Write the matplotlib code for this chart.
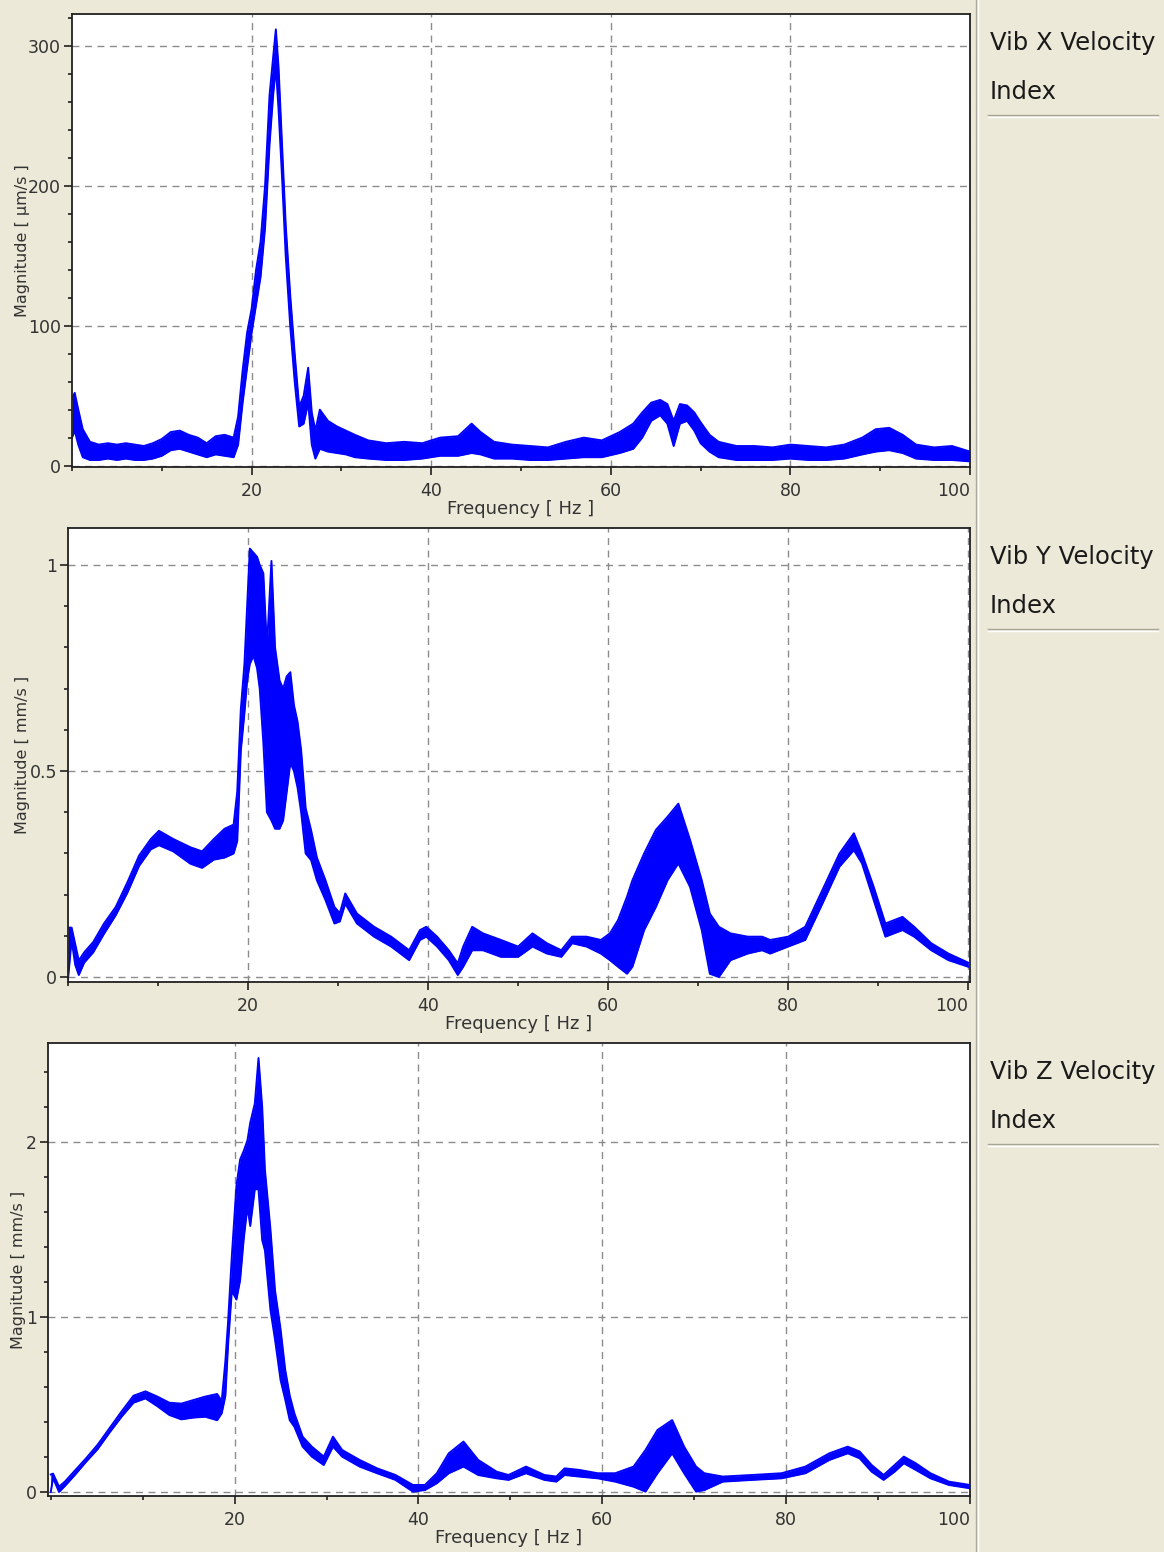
"""
Vibration velocity spectra, X / Y / Z channels.
Envelope values (low / high edge of the noisy trace) read off the screenshot.
"""

import matplotlib
matplotlib.use("Agg")
import matplotlib.pyplot as plt
from matplotlib.lines import Line2D
from matplotlib.ticker import MultipleLocator

BG = "#ECE9D8"
TRACE = "#0000FF"
TEXT = "#333333"

# --- Vib X (um/s) ---
freq_x = [0, 0.3, 0.7, 1.2, 2, 3, 4, 5, 6, 7, 8, 9, 10, 11, 12, 13, 14, 15, 16, 17,
          18, 18.5, 19, 19.5, 20, 20.5, 21, 21.5, 22, 22.4, 22.7, 23, 23.4, 23.8,
          24.3, 24.8, 25.3, 25.8, 26.3, 26.7, 27.1, 27.6, 28.5, 29.5, 30.5, 31.5,
          33, 35, 37, 39, 41, 43, 44.5, 45.5, 47, 49, 51, 53, 55, 57, 59, 61, 62.5,
          63.5, 64.5, 65.5, 66.3, 67, 67.7, 68.5, 69.3, 70, 71, 72, 74, 76, 78, 80,
          82, 84, 86, 88, 89.5, 91, 92.5, 94, 96, 98, 100]
low_x = [20, 25, 15, 6, 4, 4, 5, 4, 5, 4, 4, 5, 7, 11, 12, 10, 8, 6, 8, 7,
         6, 15, 45, 70, 95, 115, 135, 170, 230, 265, 285, 255, 205, 150,
         100, 60, 28, 30, 45, 15, 5, 12, 10, 9, 8, 6,
         5, 4, 4, 5, 7, 7, 9, 8, 5, 5, 4, 4, 5, 6, 6, 9, 12,
         20, 32, 36, 30, 14, 30, 32, 25, 16, 10, 6, 4, 4, 4, 5,
         4, 4, 5, 8, 10, 11, 9, 5, 4, 4, 3]
high_x = [48, 52, 40, 26, 17, 15, 16, 15, 16, 15, 14, 16, 19, 24, 25, 22, 20, 16, 21, 22,
          20, 35, 68, 95, 112, 140, 160, 200, 265, 292, 312, 285, 228, 172,
          122, 80, 42, 50, 70, 38, 25, 40, 32, 28, 25, 22,
          18, 16, 17, 16, 20, 21, 30, 24, 17, 15, 14, 13, 17, 20, 18, 24, 30,
          38, 45, 47, 44, 32, 44, 43, 38, 31, 22, 17, 14, 14, 13, 15,
          14, 13, 15, 20, 26, 27, 22, 15, 13, 14, 10]

# --- Vib Y (mm/s) ---
freq_y = [0, 0.4, 0.8, 1.2, 1.8, 2.8, 4, 5.3, 6.6, 7.9, 9.2, 10.1, 11.7, 13.6, 14.9,
          16.2, 17.4, 18.4, 18.8, 19.2, 19.6, 19.9, 20.2, 20.6, 21.0, 21.3, 21.7,
          22.1, 22.6, 23.0, 23.5, 23.9, 24.3, 24.7, 25.1, 25.5, 25.9, 26.4, 27.0,
          27.65, 28.6, 29.6, 30.2, 30.8, 32.1, 34, 35.9, 37.9, 39.1, 39.8, 41,
          42.3, 43.3, 43.9, 44.9, 46.1, 48.1, 50, 51.6, 53.2, 54.8, 56, 57.6, 59.2,
          60.2, 61.1, 62.1, 62.7, 64, 65.3, 66.6, 67.8, 69.1, 70.4, 71.3, 72.3,
          73.6, 75.5, 77.1, 78, 80, 81.9, 83.8, 85.7, 87.3, 88.2, 89.5, 90.8, 92.7,
          94, 95.9, 97.8, 100]
low_y = [-0.005, 0.09, 0.03, 0.005, 0.035, 0.06, 0.105, 0.15, 0.205, 0.27, 0.31, 0.32,
         0.305, 0.275, 0.265, 0.285, 0.29, 0.30, 0.33, 0.55, 0.64, 0.72, 0.76, 0.78,
         0.75, 0.70, 0.57, 0.40, 0.38, 0.36, 0.36, 0.38, 0.45, 0.52, 0.50, 0.46, 0.40,
         0.30, 0.284, 0.235, 0.187, 0.13, 0.135, 0.178, 0.13, 0.098, 0.074, 0.041,
         0.09, 0.098, 0.074, 0.041, 0.005, 0.025, 0.065, 0.065, 0.049, 0.049, 0.074,
         0.057, 0.049, 0.082, 0.074, 0.057, 0.041, 0.025, 0.008, 0.025, 0.114, 0.17,
         0.235, 0.276, 0.219, 0.114, 0.008, 0.0, 0.041, 0.057, 0.065, 0.057, 0.074,
         0.09, 0.178, 0.268, 0.308, 0.276, 0.187, 0.098, 0.114, 0.098, 0.065, 0.041,
         0.025]
high_y = [0.12, 0.12, 0.08, 0.04, 0.06, 0.085, 0.13, 0.17, 0.23, 0.295, 0.335, 0.355,
          0.335, 0.315, 0.305, 0.335, 0.36, 0.37, 0.45, 0.65, 0.76, 0.90, 1.04, 1.03,
          1.02, 1.0, 0.98, 0.80, 1.01, 0.80, 0.72, 0.70, 0.73, 0.74, 0.66, 0.62, 0.55,
          0.41, 0.357, 0.29, 0.235, 0.17, 0.155, 0.203, 0.154, 0.122, 0.098, 0.065,
          0.114, 0.122, 0.098, 0.065, 0.033, 0.074, 0.122, 0.106, 0.09, 0.074, 0.106,
          0.082, 0.065, 0.098, 0.098, 0.09, 0.106, 0.138, 0.195, 0.235, 0.30, 0.357,
          0.389, 0.421, 0.333, 0.235, 0.154, 0.122, 0.106, 0.098, 0.098, 0.09, 0.098,
          0.122, 0.211, 0.30, 0.349, 0.30, 0.219, 0.13, 0.146, 0.122, 0.082, 0.057,
          0.035]

# --- Vib Z (mm/s) ---
freq_z = [0, 0.25, 0.9, 1.55, 2.5, 3.8, 5.1, 6.4, 7.7, 9.0, 10.3, 11.6, 12.9, 14.2,
          15.5, 16.8, 18.1, 18.6, 19.0, 19.3, 19.7, 20.2, 20.6, 21.0, 21.4, 21.7,
          22.2, 22.6, 23.0, 23.3, 23.9, 24.4, 25.0, 25.5, 26.0, 26.5, 27.4, 28.4,
          29.7, 30.7, 31.7, 33.6, 35.5, 37.5, 39.4, 40.7, 42.0, 43.3, 44.9, 46.5,
          48.5, 49.8, 51.7, 53.7, 55.0, 55.9, 57.5, 59.5, 61.4, 63.4, 64.7, 66.0,
          67.6, 68.9, 70.2, 71.1, 73.1, 76.3, 79.5, 82.1, 84.7, 86.7, 88.0, 89.3,
          90.6, 91.8, 92.8, 94.1, 95.7, 97.7, 100]
low_z = [0.0, 0.08, 0.0, 0.035, 0.09, 0.17, 0.245, 0.34, 0.43, 0.51, 0.535, 0.49,
         0.44, 0.415, 0.425, 0.43, 0.41, 0.45, 0.55, 0.85, 1.15, 1.10, 1.21, 1.45,
         1.63, 1.52, 1.73, 1.73, 1.44, 1.38, 1.04, 0.87, 0.64, 0.53, 0.41, 0.373,
         0.259, 0.202, 0.154, 0.259, 0.202, 0.145, 0.107, 0.069, 0.002, 0.011, 0.05,
         0.107, 0.145, 0.097, 0.078, 0.069, 0.107, 0.069, 0.059, 0.097, 0.088, 0.078,
         0.059, 0.03, 0.002, 0.107, 0.221, 0.107, 0.002, 0.011, 0.059, 0.069, 0.078,
         0.107, 0.183, 0.221, 0.192, 0.116, 0.069, 0.116, 0.164, 0.126, 0.078, 0.04,
         0.021]
high_z = [0.10, 0.105, 0.03, 0.06, 0.115, 0.19, 0.27, 0.365, 0.46, 0.55, 0.575, 0.545,
          0.51, 0.505, 0.525, 0.545, 0.56, 0.52, 0.75, 0.98, 1.35, 1.75, 1.90, 1.95,
          2.01, 2.11, 2.22, 2.48, 2.20, 1.84, 1.50, 1.15, 0.93, 0.70, 0.55, 0.45,
          0.316, 0.259, 0.202, 0.316, 0.24, 0.183, 0.135, 0.097, 0.04, 0.04, 0.107,
          0.221, 0.288, 0.183, 0.116, 0.097, 0.145, 0.097, 0.088, 0.135, 0.126, 0.107,
          0.107, 0.145, 0.24, 0.354, 0.411, 0.259, 0.145, 0.107, 0.088, 0.097, 0.107,
          0.145, 0.221, 0.259, 0.231, 0.154, 0.097, 0.154, 0.202, 0.164, 0.107, 0.059,
          0.04]

channel_names = ["Vib X Velocity", "Vib Y Velocity", "Vib Z Velocity"]
y_labels = ["Magnitude [ \u00b5m/s ]", "Magnitude [ mm/s ]", "Magnitude [ mm/s ]"]
x_ticks = [20, 40, 60, 80, 100]
y_major = [100, 0.5, 1]
y_minor = [20, 0.1, 0.2]
y_limits = [(-1, 323), (-0.012, 1.09), (-0.023, 2.566)]
x_limits = [(0, 100), (0, 100.2), (-0.3, 100)]

W, H = 1164, 1552
# pixel boxes (left, top, right, bottom) of the three plot areas
boxes = [(72, 14, 970, 467), (68, 528, 970, 982), (48, 1043, 970, 1496)]
ylabel_x = [30, 30, 26]          # right edge of rotated y label, px
side_rows = [(43, 92, 115), (557, 606, 629), (1072, 1121, 1144)]


def fmt_tick(v, _pos=None):
    if abs(v - round(v)) < 1e-9:
        return str(int(round(v)))
    return f"{v:g}"


def draw_panel(fig, box, freq, low, high, idx):
    left, top, right, bottom = box
    ax = fig.add_axes([left / W, 1 - bottom / H, (right - left) / W, (bottom - top) / H])
    ax.set_facecolor("white")

    ax.fill_between(freq, low, high, color=TRACE, lw=0)
    ax.plot(freq, low, color=TRACE, lw=1.4)
    ax.plot(freq, high, color=TRACE, lw=1.4)

    ax.set_xlim(*x_limits[idx])
    ax.set_ylim(*y_limits[idx])

    ax.set_xticks(x_ticks, [str(t) for t in x_ticks])
    ax.xaxis.set_minor_locator(MultipleLocator(10))
    ax.yaxis.set_major_locator(MultipleLocator(y_major[idx]))
    ax.yaxis.set_minor_locator(MultipleLocator(y_minor[idx]))
    ax.yaxis.set_major_formatter(plt.FuncFormatter(fmt_tick))

    ax.grid(True, which="major", color="#8c8c8c", lw=1.0, linestyle=(0, (5, 4)))
    ax.set_axisbelow(True)

    for s in ax.spines.values():
        s.set_color("#202020")
        s.set_linewidth(1.3)

    ax.tick_params(which="major", length=6, width=1.2, color="#202020",
                   labelsize=12.5, labelcolor=TEXT, pad=2)
    ax.tick_params(axis="x", which="major", pad=5)
    ax.tick_params(which="minor", length=3, width=1.2, color="#202020")
    # last x label sits inside the plot edge, as in the original
    for lab in ax.get_xticklabels():
        if lab.get_text() == "100":
            lab.set_horizontalalignment("right")

    ax.set_xlabel("Frequency [ Hz ]", fontsize=13, color=TEXT)
    ax.xaxis.set_label_coords(0.5, -0.072)
    ax.set_ylabel(y_labels[idx], fontsize=11.5, color=TEXT)
    ax.yaxis.set_label_coords((ylabel_x[idx] - left) / (right - left), 0.5)
    return ax


def draw_side_label(fig, name, rows):
    y_name, y_index, y_rule = rows
    fig.text(990 / W, 1 - y_name / H, name, fontsize=17.5, color="#1a1a1a",
             va="center", ha="left")
    fig.text(990 / W, 1 - y_index / H, "Index", fontsize=17.5, color="#1a1a1a",
             va="center", ha="left")
    for dy, col in ((0, "#a8a596"), (1.5, "white")):
        fig.add_artist(Line2D([988 / W, 1158 / W], [1 - (y_rule + dy) / H] * 2,
                              color=col, lw=1.0))


def main():
    plt.rcParams["font.family"] = ["DejaVu Sans"]
    fig = plt.figure(figsize=(W / 100, H / 100), dpi=100, facecolor=BG)

    series = [(freq_x, low_x, high_x), (freq_y, low_y, high_y), (freq_z, low_z, high_z)]
    for i, (f, lo, hi) in enumerate(series):
        draw_panel(fig, boxes[i], f, lo, hi, i)
        draw_side_label(fig, channel_names[i], side_rows[i])

    # etched divider between plots and the side panel
    for dx, col in ((0, "#aca899"), (1.5, "white")):
        fig.add_artist(Line2D([(976 + dx) / W] * 2, [0, 1], color=col, lw=1.0))

    fig.savefig("out.png", dpi=100, facecolor=BG)
    plt.close(fig)


if __name__ == "__main__":
    main()
